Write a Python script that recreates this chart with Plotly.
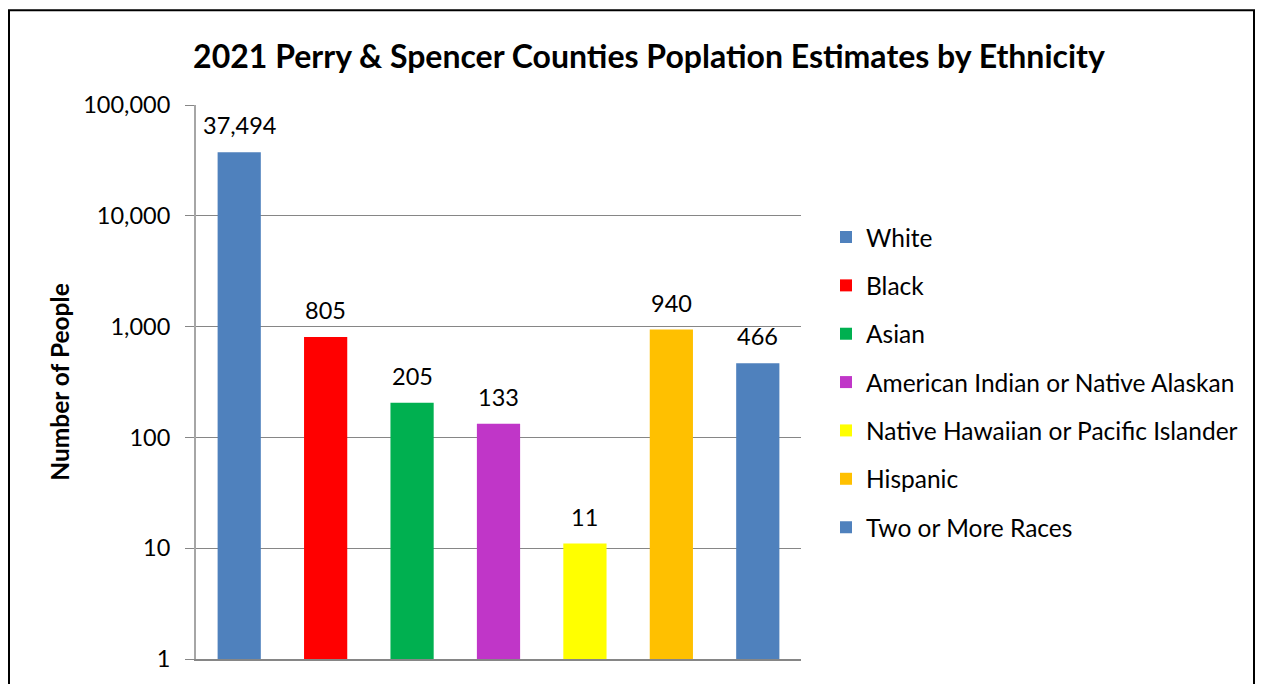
import math
import plotly.graph_objects as go

categories = ["White", "Black", "Asian", "American Indian or Native Alaskan",
              "Native Hawaiian or Pacific Islander", "Hispanic", "Two or More Races"]
values = [37494, 805, 205, 133, 11, 940, 466]
colors = ["#4F81BD", "#FF0000", "#00B050", "#C036C8", "#FFFF00", "#FFC000", "#4F81BD"]
tick_vals = [1, 10, 100, 1000, 10000, 100000]
tick_text = ["1", "10", "100", "1,000", "10,000", "100,000"]

FONT = "Lato"

fig = go.Figure()
for i, (c, v, col) in enumerate(zip(categories, values, colors)):
    fig.add_trace(go.Bar(
        x=[i], y=[v], name=c, marker=dict(color=col, line=dict(width=0)),
        width=0.5, legendgroup=c, showlegend=True,
    ))
    fig.add_annotation(x=i, y=math.log10(v), yref="y", xref="x", text=f"{v:,}", showarrow=False,
                       yanchor="bottom", yshift=11, font=dict(family=FONT, size=23.5, color="black"))

fig.update_layout(
    width=1262, height=684,
    margin=dict(l=196, r=461, t=105, b=23),
    paper_bgcolor="white", plot_bgcolor="white",
    barmode="overlay",
    title=dict(text="<b>2021 Perry & Spencer Counties Poplation Estimates by Ethnicity</b>",
               x=(649) / 1262, xanchor="center", y=1 - 57 / 684, yanchor="middle",
               font=dict(family=FONT, size=32, color="black")),
    font=dict(family=FONT, size=23, color="black"),
    legend=dict(x=(826 - 196) / 605, xanchor="left", y=(661 - 215) / 556, yanchor="top",
                font=dict(family=FONT, size=24.5, color="black"), tracegroupgap=13.5,
                bgcolor="rgba(0,0,0,0)"),
    showlegend=True,
)
fig.update_xaxes(range=[-0.5, 6.5], showticklabels=False, showgrid=False, zeroline=False,
                 showline=True, linecolor="#868686", linewidth=2, ticks="")
fig.update_yaxes(type="log", range=[0, 5], tickvals=tick_vals, ticktext=tick_text,
                 showgrid=True, gridcolor="#868686", gridwidth=1, showline=True,
                 linecolor="#A6A6A6", linewidth=2, ticks="outside", ticklen=9,
                 tickcolor="#868686", tickwidth=1, zeroline=False, ticklabelstandoff=10,
                 tickfont=dict(family=FONT, size=23.5, color="black"),
                 title=dict(text="<b>Number of People</b>", standoff=7,
                            font=dict(family=FONT, size=24.5, color="black")))

# chart border
fig.add_shape(type="rect", xref="paper", yref="paper",
              x0=(9 - 196) / 605, x1=(1254 - 196) / 605,
              y0=(661 - 720) / 556, y1=(661 - 10) / 556,
              line=dict(color="black", width=2), fillcolor="rgba(0,0,0,0)", layer="below")

fig.write_html("out.html")
